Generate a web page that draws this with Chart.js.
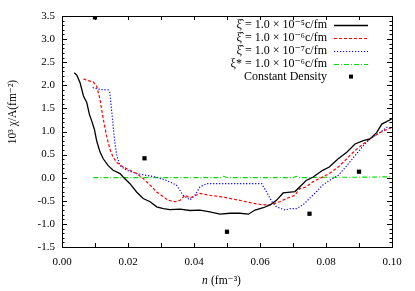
<!DOCTYPE html>
<html>
<head>
<meta charset="utf-8">
<script src="https://cdn.jsdelivr.net/npm/chart.js@4.4.1/dist/chart.umd.min.js"></script>
<style>
  html, body { margin: 0; padding: 0; background: #fff; }
  #wrap { width: 415px; height: 291px; }
</style>
</head>
<body>
<div id="wrap"><canvas id="chi" width="415" height="291"></canvas></div>
<script>
// xi_hat = 1e-5 c/fm
var n1 = [0.0037,0.0045,0.0055,0.0065,0.0075,0.0083,0.009,0.0098,0.0105,0.0115,0.0125,0.014,0.0155,0.0176,0.0186,0.0206,0.0226,0.0246,0.0267,0.0287,0.0307,0.0327,0.0358,0.0388,0.0418,0.0448,0.0479,0.0509,0.0539,0.0565,0.0585,0.061,0.063,0.065,0.067,0.0706,0.072,0.074,0.076,0.079,0.081,0.0837,0.0863,0.0888,0.0913,0.0933,0.0954,0.0969,0.0999];
var chi1 = [2.27,2.22,2.05,1.77,1.63,1.37,1.23,1.05,0.80,0.56,0.41,0.26,0.16,0.09,0.01,-0.13,-0.31,-0.45,-0.52,-0.63,-0.67,-0.69,-0.68,-0.71,-0.70,-0.74,-0.79,-0.77,-0.77,-0.79,-0.70,-0.65,-0.59,-0.49,-0.33,-0.30,-0.20,-0.06,0.01,0.16,0.23,0.41,0.55,0.73,0.80,0.84,0.98,1.16,1.27];
// xi_hat = 1e-6 c/fm
var n2 = [0.0065,0.0075,0.0095,0.0105,0.0115,0.0125,0.0135,0.0145,0.0155,0.0166,0.0186,0.0206,0.0226,0.0246,0.0267,0.0287,0.0307,0.0322,0.0343,0.0358,0.0373,0.0388,0.0418,0.0448,0.0479,0.0509,0.0539,0.057,0.06,0.063,0.066,0.068,0.0706,0.072,0.074,0.076,0.078,0.081,0.0837,0.0863,0.0888,0.0913,0.0933,0.0964,0.0999];
var chi2 = [2.14,2.11,2.07,1.98,1.70,1.27,0.91,0.62,0.44,0.33,0.23,0.16,0.09,-0.02,-0.16,-0.31,-0.41,-0.49,-0.52,-0.49,-0.38,-0.44,-0.34,-0.38,-0.41,-0.45,-0.49,-0.54,-0.58,-0.59,-0.52,-0.45,-0.38,-0.24,-0.20,-0.09,-0.02,0.09,0.23,0.41,0.59,0.73,0.84,0.98,1.09];
// xi_hat = 1e-7 c/fm
var n3 = [0.0093,0.0115,0.014,0.0145,0.015,0.0155,0.016,0.0166,0.0176,0.0196,0.0226,0.0257,0.0287,0.0317,0.0347,0.0367,0.0388,0.0403,0.0418,0.0438,0.0479,0.0529,0.0605,0.062,0.0636,0.065,0.0676,0.069,0.071,0.073,0.075,0.077,0.079,0.081,0.0837,0.0863,0.0888,0.0913,0.0933,0.0964,0.0984,0.0999];
var chi3 = [1.95,1.91,1.90,1.84,1.48,1.12,0.77,0.48,0.26,0.16,0.09,0.05,0.01,-0.06,-0.16,-0.38,-0.48,-0.38,-0.20,-0.13,-0.13,-0.13,-0.13,-0.31,-0.52,-0.63,-0.70,-0.67,-0.67,-0.59,-0.45,-0.31,-0.16,-0.06,0.05,0.26,0.48,0.69,0.84,0.98,1.09,1.05];
// xi* = 1e-6 c/fm
var n4 = [0.0095,0.02,0.03,0.04,0.048,0.049,0.05,0.06,0.07,0.071,0.072,0.08,0.09,0.1];
var chi4 = [0.0,0.0,0.0,0.0,0.0,0.03,0.0,0.0,0.0,0.03,0.0,0.01,0.01,0.02];
// constant density
var nCD = [0.01,0.025,0.05,0.075,0.09];
var chiCD = [3.47,0.42,-1.17,-0.78,0.13];

var legendText = ['ξ̂ = 1.0 × 10⁻⁵c/fm','ξ̂ = 1.0 × 10⁻⁶c/fm','ξ̂ = 1.0 × 10⁻⁷c/fm','ξ* = 1.0 × 10⁻⁶c/fm','Constant Density'];
var xTicks = [0,0.02,0.04,0.06,0.08,0.1];

function pts(xs, ys) {
    var out = [];
    for (var i = 0; i < xs.length; i++) out.push({x: xs[i], y: ys[i]});
    return out;
}

var SERIF = '"Liberation Serif", "DejaVu Serif", serif';

var framePlugin = {
    id: 'frame',
    afterDraw: function (chart) {
        var ctx = chart.ctx, a = chart.chartArea;
        var xs = chart.scales.x, ys = chart.scales.y;
        ctx.save();
        ctx.strokeStyle = '#000';
        ctx.lineWidth = 1;
        ctx.setLineDash([]);
        ctx.strokeRect(Math.round(a.left) + 0.5, Math.round(a.top) + 0.5, Math.round(a.right - a.left), Math.round(a.bottom - a.top));
        ctx.beginPath();
        // y ticks, major 0.5, minor 0.1
        for (var k = -15; k <= 35; k++) {
            var py = Math.round(ys.getPixelForValue(k / 10)) + 0.5;
            var len = (k % 5 === 0) ? 5 : 2.5;
            ctx.moveTo(a.left, py); ctx.lineTo(a.left + len, py);
            ctx.moveTo(a.right, py); ctx.lineTo(a.right - len, py);
        }
        // x ticks every 0.01
        for (var j = 0; j <= 10; j++) {
            var px = Math.round(xs.getPixelForValue(j / 100)) + 0.5;
            ctx.moveTo(px, a.bottom); ctx.lineTo(px, a.bottom - 4);
            ctx.moveTo(px, a.top); ctx.lineTo(px, a.top + 4);
        }
        ctx.stroke();

        // axis titles
        ctx.fillStyle = '#000';
        ctx.textBaseline = 'middle';
        ctx.textAlign = 'left';
        var tx = 202, ty = 281;
        ctx.font = 'italic 11.5px ' + SERIF;
        ctx.fillText('n', tx, ty);
        ctx.font = '11.5px ' + SERIF;
        ctx.fillText('(fm⁻³)', tx + 9, ty);

        ctx.save();
        ctx.translate(13, 112);
        ctx.rotate(-Math.PI / 2);
        ctx.textAlign = 'center';
        ctx.font = '11.5px ' + SERIF;
        ctx.fillText('10³ χ/A(fm⁻²)', 0, 0);
        ctx.restore();

        // legend, text left of sample
        ctx.font = '12px ' + SERIF;
        ctx.textAlign = 'right';
        var ds = chart.data.datasets;
        for (var i = 0; i < ds.length; i++) {
            var y = 25 + i * 12.9;
            ctx.fillStyle = '#000';
            ctx.fillText(legendText[i], 327, y);
            if (ds[i].showLine === false) {
                ctx.fillRect(349, y - 2, 4, 4);
            } else {
                ctx.beginPath();
                ctx.strokeStyle = ds[i].borderColor;
                ctx.lineWidth = ds[i].borderWidth;
                ctx.setLineDash(ds[i].borderDash || []);
                ctx.moveTo(334, Math.round(y) + 0.5);
                ctx.lineTo(368, Math.round(y) + 0.5);
                ctx.stroke();
            }
        }
        ctx.restore();
    }
};

new Chart(document.getElementById('chi'), {
    type: 'scatter',
    data: {
        datasets: [
            { data: pts(n1, chi1), showLine: true, borderColor: '#000000', borderWidth: 1.3, pointRadius: 0, tension: 0 },
            { data: pts(n2, chi2), showLine: true, borderColor: '#ff0000', borderWidth: 1.2, borderDash: [3, 2], pointRadius: 0, tension: 0 },
            { data: pts(n3, chi3), showLine: true, borderColor: '#0000ff', borderWidth: 1.2, borderDash: [1.2, 1.8], pointRadius: 0, tension: 0 },
            { data: pts(n4, chi4), showLine: true, borderColor: '#00dd00', borderWidth: 1.2, borderDash: [5, 2, 1, 2], pointRadius: 0, tension: 0 },
            { data: pts(nCD, chiCD), showLine: false, pointStyle: 'rect', pointRadius: 3, backgroundColor: '#000', borderColor: '#000', borderWidth: 0 }
        ]
    },
    options: {
        responsive: false,
        animation: false,
        layout: { padding: { top: 16, right: 23, left: 0, bottom: 0 } },
        plugins: { legend: { display: false }, tooltip: { enabled: false } },
        scales: {
            x: {
                type: 'linear', min: 0, max: 0.1,
                afterBuildTicks: function (s) { s.ticks = xTicks.map(function (v) { return {value: v}; }); },
                afterFit: function (s) { s.height = 44; },
                ticks: { padding: 9, color: '#000', font: { family: SERIF, size: 11 }, maxRotation: 0,
                    callback: function (v) { return v.toFixed(2); } },
                grid: { display: false, drawTicks: false },
                border: { display: false }
            },
            y: {
                min: -1.5, max: 3.5,
                afterFit: function (s) { s.width = 62; },
                ticks: { stepSize: 0.5, padding: 7, color: '#000', font: { family: SERIF, size: 11 },
                    callback: function (v) { return v.toFixed(1); } },
                grid: { display: false, drawTicks: false },
                border: { display: false }
            }
        }
    },
    plugins: [framePlugin]
});
</script>
</body>
</html>
